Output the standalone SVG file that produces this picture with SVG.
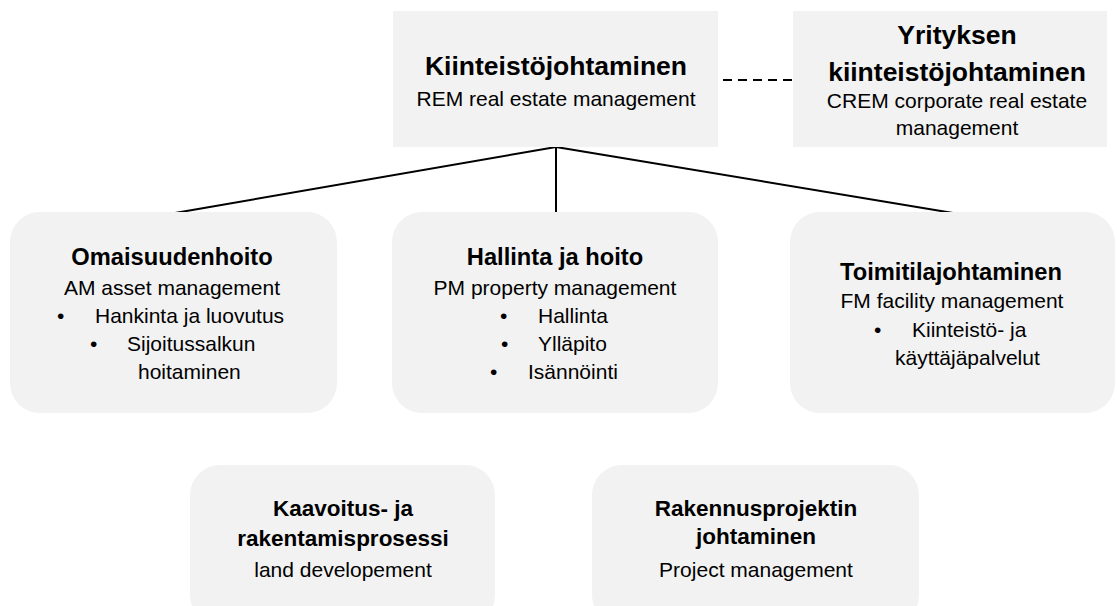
<svg xmlns="http://www.w3.org/2000/svg" width="1117" height="606" viewBox="0 0 1117 606">
  <style>
    .box { fill: #f2f2f2; }
    text { font-family: "Liberation Sans", Arial, sans-serif; fill: #000; }
    .t { font-weight: bold; font-size: 26.5px; text-anchor: middle; }
    .tm { font-weight: bold; font-size: 23.7px; text-anchor: middle; }
    .tb { font-weight: bold; font-size: 22.5px; text-anchor: middle; }
    .s { font-size: 21px; text-anchor: middle; }
    .b { font-size: 21px; }
    .link { stroke: #000; stroke-width: 2; fill: none; }
  </style>

  <g id="connectors">
    <path class="link" d="M556,147 L175,213 M556,147 L556,213 M556,147 L953,213"/>
    <path class="link" d="M723,80 L795,80" stroke-dasharray="9,6"/>
  </g>

  <g id="rem">
    <rect class="box" x="393" y="11" width="325" height="136"/>
    <text class="t" x="556" y="75">Kiinteistöjohtaminen</text>
    <text class="s" x="556" y="106">REM real estate management</text>
  </g>

  <g id="crem">
    <rect class="box" x="793" y="11" width="314" height="136"/>
    <text class="t" x="957" y="44">Yrityksen</text>
    <text class="t" x="957" y="81">kiinteistöjohtaminen</text>
    <text class="s" x="957" y="108">CREM corporate real estate</text>
    <text class="s" x="957" y="135">management</text>
  </g>

  <g id="am">
    <rect class="box" x="10" y="212" width="327" height="201" rx="30"/>
    <text class="tm" x="172" y="265">Omaisuudenhoito</text>
    <text class="s" x="172" y="295">AM asset management</text>
    <text class="b" x="57" y="323">•</text>
    <text class="b" x="95" y="323">Hankinta ja luovutus</text>
    <text class="b" x="90" y="351">•</text>
    <text class="b" x="127" y="351">Sijoitussalkun</text>
    <text class="b" x="138" y="379">hoitaminen</text>
  </g>

  <g id="pm">
    <rect class="box" x="392" y="212" width="326" height="201" rx="30"/>
    <text class="tm" x="555" y="265">Hallinta ja hoito</text>
    <text class="s" x="555" y="295">PM property management</text>
    <text class="b" x="500" y="323">•</text>
    <text class="b" x="538" y="323">Hallinta</text>
    <text class="b" x="501" y="351">•</text>
    <text class="b" x="538" y="351">Ylläpito</text>
    <text class="b" x="490" y="379">•</text>
    <text class="b" x="528" y="379">Isännöinti</text>
  </g>

  <g id="fm">
    <rect class="box" x="790" y="212" width="325" height="201" rx="30"/>
    <text class="tm" x="951" y="280">Toimitilajohtaminen</text>
    <text class="s" x="952" y="308">FM facility management</text>
    <text class="b" x="874" y="337">•</text>
    <text class="b" x="912" y="337">Kiinteistö- ja</text>
    <text class="b" x="895" y="365">käyttäjäpalvelut</text>
  </g>

  <g id="land">
    <rect class="box" x="190" y="465" width="305" height="160" rx="30"/>
    <text class="tb" x="343" y="516">Kaavoitus- ja</text>
    <text class="tb" x="343" y="546">rakentamisprosessi</text>
    <text class="s" x="343" y="577" font-size="20.5">land developement</text>
  </g>

  <g id="project">
    <rect class="box" x="592" y="465" width="327" height="160" rx="30"/>
    <text class="tb" x="756" y="516">Rakennusprojektin</text>
    <text class="tb" x="756" y="544">johtaminen</text>
    <text class="s" x="756" y="577">Project management</text>
  </g>
</svg>
